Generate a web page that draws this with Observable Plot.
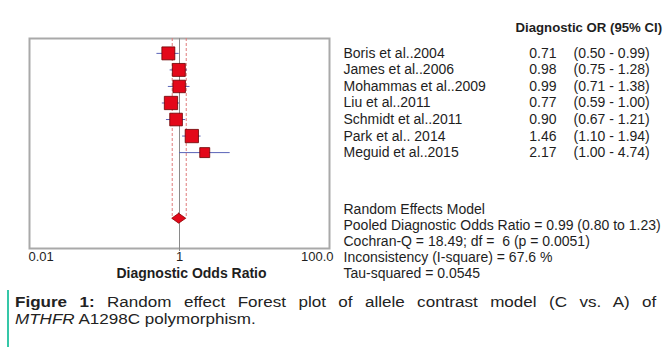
<!DOCTYPE html>
<html><head><meta charset="utf-8">
<script src="https://cdn.jsdelivr.net/npm/d3@7"></script>
<script src="https://cdn.jsdelivr.net/npm/@observablehq/plot@0.6"></script>
<style>
html,body{margin:0;padding:0;background:#fff;width:664px;height:347px;overflow:hidden;}
#frame{position:absolute;left:7px;top:5px;width:670px;height:360px;border-left:2px solid #35c7a8;border-top:2px solid #35c7a8;}
#chart{position:absolute;left:0;top:0;}
#cap{position:absolute;left:15px;top:294px;font-family:"Liberation Sans",Arial,sans-serif;font-size:15.5px;line-height:16.5px;color:#222;width:583px;transform:scaleX(1.1);transform-origin:0 0;}
#cap .l1{text-align:justify;text-align-last:justify;white-space:nowrap;}
</style></head><body>
<div id="frame"></div>
<div id="chart"></div>
<div id="cap"><div class="l1"><b>Figure 1:</b> Random effect Forest plot of allele contrast model (C vs. A) of</div><div><i>MTHFR</i> A1298C polymorphism.</div></div>
<script>
const studies = ["Boris et al..2004", "James et al..2006", "Mohammas et al..2009", "Liu et al..2011", "Schmidt et al..2011", "Park et al.. 2014", "Meguid et al..2015"];
const oddsRatio = [0.71, 0.98, 0.99, 0.77, 0.90, 1.46, 2.17];
const ciLow = [0.50, 0.75, 0.71, 0.59, 0.67, 1.10, 1.00];
const ciHigh = [0.99, 1.28, 1.38, 1.00, 1.21, 1.94, 4.74];
const weights = [15.2, 15.2, 14.1, 16.0, 14.5, 16.0, 9.0];
const pooledOR = 0.99, pooledLow = 0.80, pooledHigh = 1.23;
const header = "Diagnostic OR (95% CI)";
const statLines = ["Random Effects Model", "Pooled Diagnostic Odds Ratio = 0.99 (0.80 to 1.23)", "Cochran-Q = 18.49; df =  6 (p = 0.0051)", "Inconsistency (I-square) = 67.6 %", "Tau-squared = 0.0545"];
const xTicks = [0.01, 1, 100];
const xTickLabels = ["0.01", "1", "100.0"];
const xLabel = "Diagnostic Odds Ratio";

const rows = studies.map((s, i) => ({study: s, or: oddsRatio[i], lo: ciLow[i], hi: ciHigh[i], w: weights[i], row: i}));
const pooledRow = 10;
const yTop = -0.9, yBottom = 11.8;
const dh = 0.3;
const diamond = [
  {y: pooledRow - dh, x1: pooledOR, x2: pooledOR},
  {y: pooledRow, x1: pooledLow, x2: pooledHigh},
  {y: pooledRow + dh, x1: pooledOR, x2: pooledOR}
];
const fmt = d3.format(".2f");
const anchors = ["start", "middle", "end"];
const tdx = [-1, 0, 4];
const red = "#e3081a";

const chart = Plot.plot({
  width: 664, height: 290,
  marginTop: 38, marginLeft: 29, marginRight: 335, marginBottom: 42,
  x: {type: "log", domain: [0.01, 100], axis: null, label: null},
  y: {domain: [yTop, yBottom], reverse: true, axis: null, label: null},
  r: {domain: [0, 16], range: [0, 7.5]},
  style: {fontFamily: "'Liberation Sans', Arial, sans-serif", fontSize: "14px", color: "#1e1e1e", background: "white", overflow: "visible"},
  marks: [
    Plot.frame({stroke: "#a9a9a9", strokeWidth: 2}),
    Plot.ruleX([1], {stroke: "#8a8a8a", strokeWidth: 1}),
    Plot.axisX({ticks: [1], tickSize: 3, tickFormat: () => "", stroke: "#8a8a8a", label: null}),
    Plot.ruleX([pooledLow, pooledHigh], {y1: yTop, y2: pooledRow, stroke: "#e07c7c", strokeWidth: 1, strokeDasharray: "3,2"}),
    Plot.ruleY(rows, {y: "row", x1: "lo", x2: "hi", stroke: "#5a64b8", strokeWidth: 1}),
    Plot.dot(rows, {x: "or", y: "row", r: "w", symbol: "square", fill: red, stroke: "#6a0000", strokeWidth: 0.8}),
    Plot.areaX(diamond, {y: "y", x1: "x1", x2: "x2", fill: red, stroke: "#8a0000", strokeWidth: 0.8, curve: "linear"}),
    Plot.text(rows, {y: "row", text: "study", frameAnchor: "right", dx: 14, textAnchor: "start"}),
    Plot.text(rows, {y: "row", text: d => fmt(d.or), frameAnchor: "right", dx: 227, textAnchor: "end"}),
    Plot.text(rows, {y: "row", text: d => `(${fmt(d.lo)} - ${fmt(d.hi)})`, frameAnchor: "right", dx: 244, textAnchor: "start"}),
    Plot.text([header], {text: d => d, frameAnchor: "top-right", dx: 186, dy: -11, textAnchor: "start", lineAnchor: "middle", fontWeight: "bold", fontSize: 13.2}),
    Plot.text([statLines.join("\n")], {text: d => d, frameAnchor: "bottom-right", dx: 14, dy: 29, textAnchor: "start", lineAnchor: "bottom", lineHeight: 16 / 14}),
    ...xTicks.map((t, i) => Plot.text([t], {x: d => d, text: () => xTickLabels[i], frameAnchor: "bottom", dy: 12, textAnchor: anchors[i], dx: tdx[i], fontSize: 13})),
    Plot.text([xLabel], {text: d => d, frameAnchor: "bottom", dx: 12, dy: 29, fontWeight: "bold", fontSize: 14})
  ]
});
document.getElementById("chart").appendChild(chart);
</script>
</body></html>
